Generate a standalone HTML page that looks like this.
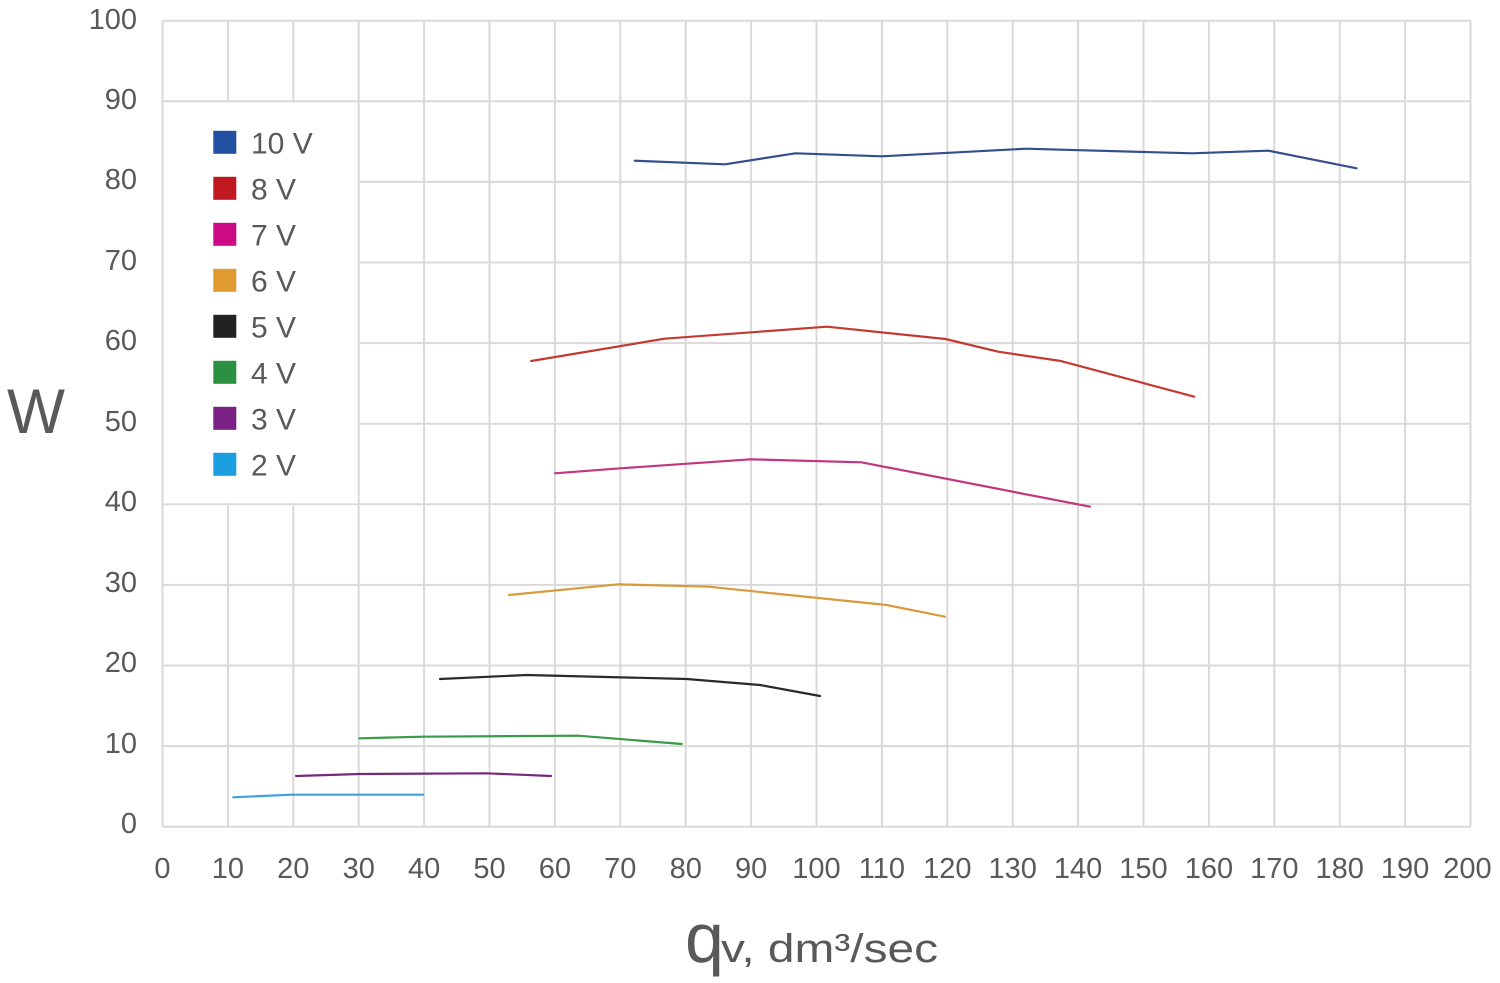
<!DOCTYPE html>
<html>
<head>
<meta charset="utf-8">
<style>
  html, body { margin:0; padding:0; background:#fff; }
  body { width:1500px; height:983px; overflow:hidden; }
  svg { display:block; }
  text { font-family:"Liberation Sans", sans-serif; fill:#595959; }
</style>
</head>
<body>
<svg width="1500" height="983" viewBox="0 0 1500 983" xmlns="http://www.w3.org/2000/svg">
  <rect x="0" y="0" width="1500" height="983" fill="#ffffff"/>
  <!-- grid -->
  <g stroke="#d9d9d9" stroke-width="2" fill="none">
    <line x1="162.5" y1="20.7" x2="162.5" y2="826.7"/>
    <line x1="227.9" y1="20.7" x2="227.9" y2="826.7"/>
    <line x1="293.3" y1="20.7" x2="293.3" y2="826.7"/>
    <line x1="358.7" y1="20.7" x2="358.7" y2="826.7"/>
    <line x1="424.1" y1="20.7" x2="424.1" y2="826.7"/>
    <line x1="489.5" y1="20.7" x2="489.5" y2="826.7"/>
    <line x1="554.9" y1="20.7" x2="554.9" y2="826.7"/>
    <line x1="620.3" y1="20.7" x2="620.3" y2="826.7"/>
    <line x1="685.7" y1="20.7" x2="685.7" y2="826.7"/>
    <line x1="751.1" y1="20.7" x2="751.1" y2="826.7"/>
    <line x1="816.5" y1="20.7" x2="816.5" y2="826.7"/>
    <line x1="881.9" y1="20.7" x2="881.9" y2="826.7"/>
    <line x1="947.3" y1="20.7" x2="947.3" y2="826.7"/>
    <line x1="1012.7" y1="20.7" x2="1012.7" y2="826.7"/>
    <line x1="1078.1" y1="20.7" x2="1078.1" y2="826.7"/>
    <line x1="1143.5" y1="20.7" x2="1143.5" y2="826.7"/>
    <line x1="1208.9" y1="20.7" x2="1208.9" y2="826.7"/>
    <line x1="1274.3" y1="20.7" x2="1274.3" y2="826.7"/>
    <line x1="1339.7" y1="20.7" x2="1339.7" y2="826.7"/>
    <line x1="1405.1" y1="20.7" x2="1405.1" y2="826.7"/>
    <line x1="1470.5" y1="20.7" x2="1470.5" y2="826.7"/>

    <line x1="162.5" y1="826.7" x2="1470.5" y2="826.7"/>
    <line x1="162.5" y1="746.1" x2="1470.5" y2="746.1"/>
    <line x1="162.5" y1="665.5" x2="1470.5" y2="665.5"/>
    <line x1="162.5" y1="584.9" x2="1470.5" y2="584.9"/>
    <line x1="162.5" y1="504.3" x2="1470.5" y2="504.3"/>
    <line x1="162.5" y1="423.7" x2="1470.5" y2="423.7"/>
    <line x1="162.5" y1="343.1" x2="1470.5" y2="343.1"/>
    <line x1="162.5" y1="262.5" x2="1470.5" y2="262.5"/>
    <line x1="162.5" y1="181.9" x2="1470.5" y2="181.9"/>
    <line x1="162.5" y1="101.3" x2="1470.5" y2="101.3"/>
    <line x1="162.5" y1="20.7" x2="1470.5" y2="20.7"/>
  </g>
  <!-- legend background -->
  <rect x="163.6" y="102.4" width="194" height="400.8" fill="#ffffff"/>

  <!-- series -->
  <g fill="none" stroke-width="2.2" stroke-linejoin="round" stroke-linecap="round">
    <polyline stroke="#354f8e" points="634.7,160.7 725,164.3 795.4,153.3 882,156.3 1026,148.7 1191.8,153.3 1268.4,150.7 1356.6,168.3"/>
    <polyline stroke="#c33a33" points="531.2,361 664.4,338.7 826.9,326.7 945.4,339 998.2,351.7 1061,361 1194.2,396.7"/>
    <polyline stroke="#c2367f" points="555,473.3 620.4,468.3 750.7,459.3 861.4,462.3 1090,506.7"/>
    <polyline stroke="#d99a3c" points="509,595 618.3,584.3 708.3,586.7 886.7,605 945,616.7"/>
    <polyline stroke="#2a2a2a" points="440,679 526.7,675 686.7,679 760,685 820,696"/>
    <polyline stroke="#3b9a48" points="359.3,738.3 423.3,736.7 578.3,735.7 681.7,744"/>
    <polyline stroke="#77297c" points="296,776 360,774 486.7,773.3 551,776"/>
    <polyline stroke="#3ba2dc" points="233.3,797.3 291.7,794.7 423.3,794.7"/>
  </g>

  <!-- legend -->
  <g>
    <rect x="213.3" y="130.8" width="23" height="23" fill="#2350a0"/>
    <rect x="213.3" y="176.8" width="23" height="23" fill="#c0191f"/>
    <rect x="213.3" y="222.8" width="23" height="23" fill="#cc0a83"/>
    <rect x="213.3" y="268.8" width="23" height="23" fill="#e09a2f"/>
    <rect x="213.3" y="314.8" width="23" height="23" fill="#222222"/>
    <rect x="213.3" y="360.8" width="23" height="23" fill="#2b9140"/>
    <rect x="213.3" y="406.8" width="23" height="23" fill="#7a2185"/>
    <rect x="213.3" y="452.8" width="23" height="23" fill="#1a9ee0"/>
  </g>
  <g font-size="30">
    <text x="251" y="153.5">10 V</text>
    <text x="251" y="199.5">8 V</text>
    <text x="251" y="245.5">7 V</text>
    <text x="251" y="291.5">6 V</text>
    <text x="251" y="337.5">5 V</text>
    <text x="251" y="383.5">4 V</text>
    <text x="251" y="429.5">3 V</text>
    <text x="251" y="475.5">2 V</text>
  </g>

  <!-- y tick labels -->
  <g font-size="29" text-anchor="end">
    <text x="137" y="833">0</text>
    <text x="137" y="753">10</text>
    <text x="137" y="672">20</text>
    <text x="137" y="592">30</text>
    <text x="137" y="511">40</text>
    <text x="137" y="431">50</text>
    <text x="137" y="350">60</text>
    <text x="137" y="270">70</text>
    <text x="137" y="189">80</text>
    <text x="137" y="109">90</text>
    <text x="137" y="29">100</text>
  </g>

  <!-- x tick labels -->
  <g font-size="29" text-anchor="middle">
    <text x="162.5" y="878">0</text>
    <text x="227.9" y="878">10</text>
    <text x="293.3" y="878">20</text>
    <text x="358.7" y="878">30</text>
    <text x="424.1" y="878">40</text>
    <text x="489.5" y="878">50</text>
    <text x="554.9" y="878">60</text>
    <text x="620.3" y="878">70</text>
    <text x="685.7" y="878">80</text>
    <text x="751.1" y="878">90</text>
    <text x="816.5" y="878">100</text>
    <text x="881.9" y="878">110</text>
    <text x="947.3" y="878">120</text>
    <text x="1012.7" y="878">130</text>
    <text x="1078.1" y="878">140</text>
    <text x="1143.5" y="878">150</text>
    <text x="1208.9" y="878">160</text>
    <text x="1274.3" y="878">170</text>
    <text x="1339.7" y="878">180</text>
    <text x="1405.1" y="878">190</text>
    <text x="1467.5" y="878">200</text>
  </g>

  <!-- axis titles -->
  <text x="7" y="433" font-size="63" fill="#666666" textLength="58" lengthAdjust="spacingAndGlyphs">W</text>
  <text x="685" y="962" font-size="70" fill="#666666">q</text>
  <text x="721" y="962" font-size="40" fill="#666666" textLength="217" lengthAdjust="spacingAndGlyphs">v, dm³/sec</text>
</svg>
</body>
</html>
